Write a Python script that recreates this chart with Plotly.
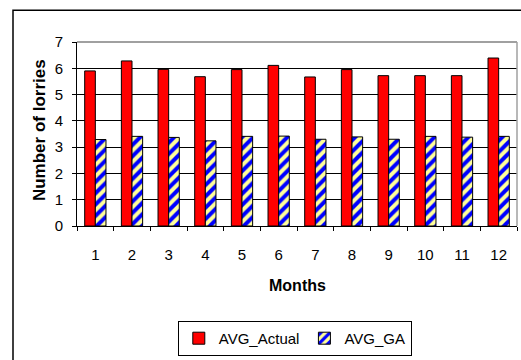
import plotly.graph_objects as go

months = ["1", "2", "3", "4", "5", "6", "7", "8", "9", "10", "11", "12"]
avg_actual = [5.90, 6.28, 5.96, 5.68, 5.95, 6.11, 5.67, 5.95, 5.72, 5.72, 5.72, 6.39]
avg_ga = [3.29, 3.41, 3.37, 3.24, 3.41, 3.42, 3.30, 3.39, 3.30, 3.41, 3.38, 3.41]
y_ticks = [0, 1, 2, 3, 4, 5, 6, 7]

FONT = "Arial, Liberation Sans, sans-serif"

fig = go.Figure()
fig.add_trace(go.Bar(
    x=months, y=avg_actual, name="AVG_Actual",
    marker=dict(color="#FF0000", line=dict(color="black", width=1)),
))
fig.add_trace(go.Bar(
    x=months, y=avg_ga, name="AVG_GA",
    marker=dict(color="#FFFF99", line=dict(color="black", width=1),
                pattern=dict(shape="/", fgcolor="#0000FF", bgcolor="#FFFF99",
                             size=8, solidity=0.5, fillmode="replace")),
))

fig.update_layout(
    width=521, height=360,
    margin=dict(l=77, r=4, t=42, b=132),
    paper_bgcolor="white", plot_bgcolor="white",
    font=dict(family=FONT, size=15, color="black"),
    barmode="group", bargap=0.42, bargroupgap=0,
    showlegend=True,
    legend=dict(orientation="h", x=0.495, y=-0.516, xanchor="center", yanchor="top",
                bordercolor="black", borderwidth=1, bgcolor="white",
                font=dict(family=FONT, size=15), itemwidth=30,
                tracegroupgap=0),
    xaxis=dict(type="category", showline=True, linecolor="black", linewidth=1,
               ticks="outside", tickson="boundaries", ticklen=4, tickcolor="black",
               tickfont=dict(family=FONT, size=15), ticklabelstandoff=15,
               showgrid=False),
    yaxis=dict(range=[0, 7], tickvals=y_ticks, showline=True, linecolor="black",
               linewidth=1, ticks="outside", ticklen=4, tickcolor="black",
               showgrid=True, gridcolor="black", gridwidth=1,
               tickfont=dict(family=FONT, size=15), ticklabelstandoff=6,
               zeroline=False),
    shapes=[
        dict(type="line", xref="paper", yref="paper", x0=0, x1=1, y0=1, y1=1,
             line=dict(color="#808080", width=1.5), layer="above"),
        dict(type="line", xref="paper", yref="paper", x0=1, x1=1, y0=0, y1=1,
             line=dict(color="#A0A0A0", width=1.5), layer="above"),
        dict(type="rect", xref="paper", yref="paper",
             x0=(13 - 77) / 440, x1=1.2, y0=(228 - 10) / 186, y1=-1.0,
             line=dict(color="black", width=1.5), layer="below"),
    ],
    annotations=[
        dict(text="<b>Number of lorries</b>", xref="paper", yref="paper",
             x=(39 - 77) / 440, y=(228 - 131) / 186, textangle=-90, showarrow=False,
             font=dict(family=FONT, size=17), xanchor="center", yanchor="middle"),
        dict(text="<b>Months</b>", xref="paper", yref="paper",
             x=0.5, y=(228 - 288) / 186, showarrow=False,
             font=dict(family=FONT, size=16), xanchor="center", yanchor="middle"),
    ],
)

fig.write_html("out.html", config={"displayModeBar": False},
               post_script="document.body.style.margin='0';document.body.style.overflow='hidden';")
